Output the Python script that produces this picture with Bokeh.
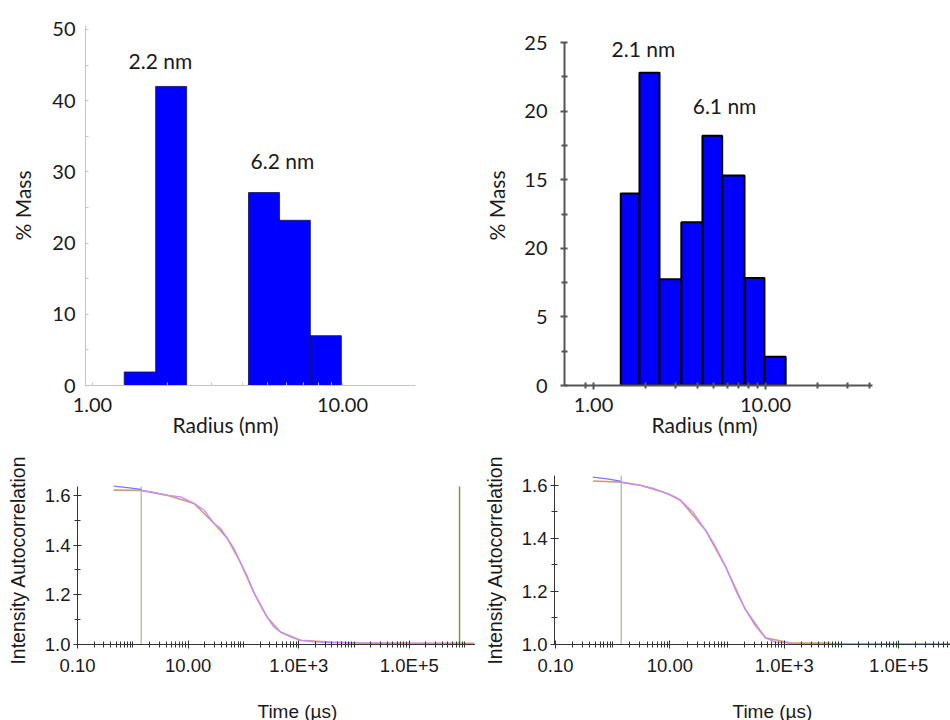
from bokeh.plotting import figure
from bokeh.layouts import column, row
from bokeh.models import (FixedTicker, Range1d, Label, Title,
                          CustomJSTickFormatter, PrintfTickFormatter)
from bokeh.embed import file_html
from bokeh.resources import INLINE

# ---------------- data ----------------
# Top-left histogram (radius bins in nm, % mass)
TL_BIN_LEFT = [1.34, 1.79, 4.21, 5.60, 7.44]
TL_BIN_RIGHT = [1.79, 2.38, 5.60, 7.44, 9.90]
TL_MASS = [1.9, 42.0, 27.1, 23.2, 7.0]
TL_PEAK_LABELS = ["2.2 nm", "6.2 nm"]

# Top-right histogram
TR_BIN_LEFT = [1.44, 1.85, 2.42, 3.24, 4.30, 5.60, 7.55, 9.86]
TR_BIN_RIGHT = [1.85, 2.42, 3.24, 4.30, 5.60, 7.55, 9.86, 13.1]
TR_MASS = [14.0, 22.8, 7.75, 11.9, 18.2, 15.3, 7.84, 2.1]
TR_PEAK_LABELS = ["2.1 nm", "6.1 nm"]

# Tick labels
HIST_X_TICKS = [1, 10]
HIST_X_LABELS = ["1.00", "10.00"]
TL_Y_TICKS = [0, 10, 20, 30, 40, 50]
TL_Y_LABELS = ["0", "10", "20", "30", "40", "50"]
TR_Y_TICKS = [0, 5, 10, 15, 20, 25]
TR_Y_LABELS = ["0", "5", "20", "15", "20", "25"]
ACF_X_TICKS = [0.1, 10, 1000, 100000]
ACF_X_LABELS = ["0.10", "10.00", "1.0E+3", "1.0E+5"]
ACF_Y_TICKS = [1.0, 1.2, 1.4, 1.6]

# Bottom-left autocorrelation (time in us)
BL_PRE_T = [0.45, 0.80, 1.42]
BL_PRE_G = [1.637, 1.631, 1.624]
BL_FIT_T = [0.45, 1.42, 4.27, 12.9, 29.2, 50.9, 88.7, 154, 269, 469, 1080, 3760, 10000,
            100000, 1500000]
BL_FIT_G = [1.621, 1.620, 1.600, 1.567, 1.488, 1.428, 1.329, 1.210, 1.110, 1.050, 1.017,
            1.010, 1.007, 1.005, 1.005]
BL_DATA_T = [1.42, 2.14, 4.27, 7.4, 12.9, 19.5, 29.2, 38.5, 50.9, 67.0, 88.7, 117, 154, 204,
             269, 355, 469, 711, 1080, 1875, 3760, 10000, 100000, 810000]
BL_DATA_G = [1.620, 1.614, 1.600, 1.594, 1.567, 1.541, 1.488, 1.468, 1.428, 1.388, 1.329, 1.276,
             1.210, 1.156, 1.110, 1.070, 1.050, 1.031, 1.017, 1.011, 1.008, 1.006, 1.004, 1.004]
BL_MARKS = [1.42, 810000]

# Bottom-right autocorrelation
BR_PRE_T = [0.45, 0.80, 1.37]
BR_PRE_G = [1.631, 1.624, 1.616]
BR_FIT_T = [0.45, 1.37, 3.06, 8.97, 15.3, 41.9, 93.8, 210, 469, 1374, 6500]
BR_FIT_G = [1.616, 1.612, 1.600, 1.569, 1.544, 1.431, 1.294, 1.131, 1.025, 1.005, 1.005]
BR_DATA_T = [1.37, 3.06, 5.24, 8.97, 12.5, 15.3, 25.1, 41.9, 62.7, 93.8, 140, 210, 314, 469,
             702, 1374, 5000, 100000, 810000]
BR_DATA_G = [1.612, 1.600, 1.588, 1.569, 1.556, 1.544, 1.500, 1.431, 1.369, 1.294, 1.206, 1.131,
             1.069, 1.025, 1.009, 1.004, 1.003, 1.003, 1.003]
BR_MARKS = [1.41]

HIST_FONT = "Lato"
ACF_FONT = "Liberation Sans"
TXT = "#1a1a1a"

FMT_CODE = """
for (let i = 0; i < vals.length; i++) {
  if (Math.abs(tick - vals[i]) <= 1e-9 * Math.max(1, Math.abs(vals[i]))) { return labs[i]; }
}
return "";
"""


def fmt(vals, labs):
    return CustomJSTickFormatter(args=dict(vals=vals, labs=labs), code=FMT_CODE)


def base_fig(w, h, xr, yr, borders):
    l, r, t, b = borders
    p = figure(width=w, height=h, x_axis_type="log", x_range=xr, y_range=yr,
               output_backend="svg", toolbar_location=None,
               min_border_left=l, min_border_right=r, min_border_top=t, min_border_bottom=b)
    p.grid.visible = False
    p.outline_line_color = None
    p.background_fill_color = "white"
    return p


def style_axis(ax, color, width, font, size):
    ax.axis_line_color = color
    ax.axis_line_width = width
    ax.major_tick_line_color = color
    ax.minor_tick_line_color = color
    ax.major_tick_line_width = width
    ax.minor_tick_line_width = width
    ax.major_label_text_font = font
    ax.major_label_text_font_size = size
    ax.major_label_text_color = TXT
    ax.axis_label_text_font = font
    ax.axis_label_text_font_style = "normal"
    ax.axis_label_text_color = TXT


def peak_label(p, x, y, text):
    p.add_layout(Label(x=x, y=y, text=text, text_font=HIST_FONT, text_font_size="21px",
                       text_color=TXT, text_align="center", text_baseline="middle"))


def x_title(p, text, font, size, offset, standoff):
    p.add_layout(Title(text=text, align="left", offset=offset, standoff=standoff,
                       text_font=font, text_font_size=size, text_font_style="normal",
                       text_color=TXT, vertical_align="bottom"), "below")


# ---------------- top-left ----------------
tl = base_fig(475, 450, Range1d(0.938, 19.6), Range1d(0, 50.56), (85, 60, 25, 65))
tl.quad(left=TL_BIN_LEFT, right=TL_BIN_RIGHT, bottom=0, top=TL_MASS,
        fill_color="#0000ff", line_color="#10105a", line_width=0.8)
for ax in (tl.xaxis[0], tl.yaxis[0]):
    style_axis(ax, "#c4c4c4", 1, HIST_FONT, "20px")
    ax.major_tick_out = 0
    ax.major_tick_in = 3
    ax.minor_tick_out = 0
    ax.minor_tick_in = 3
tl.xaxis.ticker = FixedTicker(ticks=HIST_X_TICKS, minor_ticks=[2, 3, 4, 5, 6, 7, 8, 9, 20])
tl.xaxis.formatter = fmt(HIST_X_TICKS, HIST_X_LABELS)
tl.yaxis.ticker = FixedTicker(ticks=TL_Y_TICKS, minor_ticks=[5, 15, 25, 35, 45])
tl.yaxis.formatter = fmt(TL_Y_TICKS, TL_Y_LABELS)
tl.xaxis.major_label_standoff = 12
tl.yaxis.major_label_standoff = 10
tl.yaxis.axis_label = "% Mass"
tl.yaxis.axis_label_text_font_size = "21px"
tl.yaxis.axis_label_standoff = 14
peak_label(tl, 1.87, 45.6, TL_PEAK_LABELS[0])
peak_label(tl, 5.75, 31.6, TL_PEAK_LABELS[1])
x_title(tl, "Radius (nm)", HIST_FONT, "21px", 87, -10)

# ---------------- top-right ----------------
tr = base_fig(475, 450, Range1d(0.678, 41.9), Range1d(0, 26.24), (89, 78, 25, 65))
tr.quad(left=TR_BIN_LEFT, right=TR_BIN_RIGHT, bottom=0, top=TR_MASS,
        fill_color="#0000ff", line_color="black", line_width=2)
for ax in (tr.xaxis[0], tr.yaxis[0]):
    style_axis(ax, "#555555", 2, HIST_FONT, "20px")
    ax.major_tick_out = 4
    ax.major_tick_in = 3
    ax.minor_tick_out = 3
    ax.minor_tick_in = 3
tr.yaxis.bounds = (0, 25)
tr.xaxis.ticker = FixedTicker(ticks=HIST_X_TICKS,
                              minor_ticks=[0.9, 2, 3, 4, 5, 6, 7, 8, 9, 20, 30, 40])
tr.xaxis.formatter = fmt(HIST_X_TICKS, HIST_X_LABELS)
tr.yaxis.ticker = FixedTicker(ticks=TR_Y_TICKS, minor_ticks=[2.5, 7.5, 12.5, 17.5, 22.5])
tr.yaxis.formatter = fmt(TR_Y_TICKS, TR_Y_LABELS)
tr.xaxis.major_label_standoff = 8
tr.yaxis.major_label_standoff = 13
tr.yaxis.axis_label = "% Mass"
tr.yaxis.axis_label_text_font_size = "21px"
tr.yaxis.axis_label_standoff = 12
peak_label(tr, 1.95, 24.56, TR_PEAK_LABELS[0])
peak_label(tr, 5.78, 20.4, TR_PEAK_LABELS[1])
x_title(tr, "Radius (nm)", HIST_FONT, "21px", 87, -10)


# ---------------- autocorrelation panels ----------------
def acf_fig(xr, yr, ytop, borders, pre_t, pre_g, fit_t, fit_g, data_t, data_g, marks,
            title_offset):
    p = base_fig(475, 270, xr, yr, borders)
    mark_colors = ["#bcc4a4", "#7b9440"]
    for i, m in enumerate(marks):
        p.segment(x0=[m], y0=[yr.start], x1=[m], y1=[ytop],
                  line_color=mark_colors[i], line_width=1.5)
    p.line(fit_t, fit_g, line_color="#c8a07c", line_width=1.6)
    p.line(pre_t, pre_g, line_color="#7777ff", line_width=1.3)
    p.line(data_t, data_g, line_color="#cc88ff", line_width=1.3)
    minor = []
    for d in range(-1, 7):
        for k in range(1, 10):
            v = k * 10.0 ** d
            if v not in ACF_X_TICKS:
                minor.append(v)
    p.xaxis.ticker = FixedTicker(ticks=ACF_X_TICKS, minor_ticks=minor)
    p.xaxis.formatter = fmt(ACF_X_TICKS, ACF_X_LABELS)
    p.yaxis.ticker = FixedTicker(ticks=ACF_Y_TICKS, minor_ticks=[1.1, 1.3, 1.5])
    p.yaxis.formatter = PrintfTickFormatter(format="%.1f")
    p.yaxis.bounds = (yr.start, ytop)
    for ax in (p.xaxis[0], p.yaxis[0]):
        style_axis(ax, "#333333", 1, ACF_FONT, "18.5px")
        ax.major_tick_out = 4
        ax.major_tick_in = 4
        ax.minor_tick_out = 3
        ax.minor_tick_in = 3
    p.xaxis.major_label_standoff = 6
    p.yaxis.major_label_standoff = 3
    p.yaxis.axis_label = "Intensity Autocorrelation"
    p.yaxis.axis_label_text_font_size = "19.5px"
    p.yaxis.axis_label_standoff = 13
    x_title(p, " \nTime (\u00b5s)", ACF_FONT, "19px", title_offset, -2)
    return p


bl = acf_fig(Range1d(0.1, 1.574e6), Range1d(1.0, 1.680), 1.636, (77, 0, 25, 74),
             BL_PRE_T, BL_PRE_G, BL_FIT_T, BL_FIT_G, BL_DATA_T, BL_DATA_G, BL_MARKS, 180)
br = acf_fig(Range1d(0.096, 8.05e5), Range1d(1.0, 1.637), 1.637, (79, 0, 25, 74),
             BR_PRE_T, BR_PRE_G, BR_FIT_T, BR_FIT_G, BR_DATA_T, BR_DATA_G, BR_MARKS, 178)

layout = column(row(tl, tr), row(bl, br))
open("out.html", "w").write(file_html(layout, INLINE))
